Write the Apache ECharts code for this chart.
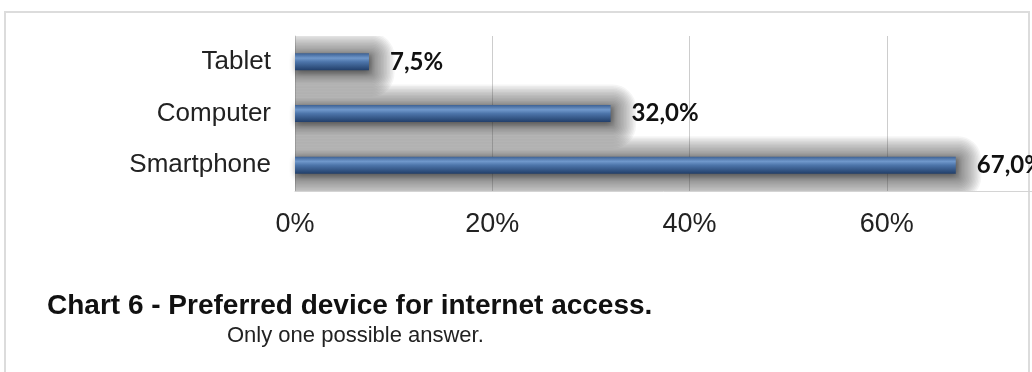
<!DOCTYPE html>
<html>
<head>
<meta charset="utf-8">
<script src="https://cdn.jsdelivr.net/npm/echarts@6/dist/echarts.min.js"></script>
<style>
  html, body { margin: 0; padding: 0; background: #fff; }
  #chart { width: 1032px; height: 372px; }
</style>
</head>
<body>
<div id="chart"></div>
<script>
// Device categories, top to bottom
const devices = ['Tablet', 'Computer', 'Smartphone'];
// Share of respondents (%)
const shares = [7.5, 32.0, 67.0];
// Value axis range and step (%)
const axisMin = 0;
const axisMax = 80;
const axisStep = 20;

const titleText = 'Chart 6 - Preferred device for internet access.';
const subText = 'Only one possible answer.';

const chart = echarts.init(document.getElementById('chart'), null, { renderer: 'canvas' });

const barFill = new echarts.graphic.LinearGradient(0, 0, 0, 1, [
  { offset: 0, color: '#3d6194' },
  { offset: 0.28, color: '#7098cb' },
  { offset: 0.5, color: '#4d75aa' },
  { offset: 1, color: '#223f6a' }
]);

// Soft grey glow behind each bar, built from stacked translucent
// rounded rectangles that grow outward from the bar outline.
const GLOW_LAYERS = 16;
function renderGlow(params, api) {
  const v = api.value(0);
  const c = api.value(1);
  const p0 = api.coord([0, c]);
  const p1 = api.coord([v, c]);
  const half = 8.5;
  const children = [];
  for (let k = 0; k < GLOW_LAYERS; k++) {
    const e = 1 + k * 1.5;
    children.push({
      type: 'rect',
      shape: {
        x: p0[0] - e,
        y: p0[1] - half - e + 3,
        width: p1[0] - p0[0] + 2 * e + 2,
        height: 2 * half + 2 * e,
        r: e
      },
      style: { fill: 'rgba(70,70,70,0.056)' }
    });
  }
  return { type: 'group', children };
}

chart.setOption({
  animation: false,
  backgroundColor: '#ffffff',
  graphic: [{
    type: 'rect',
    silent: true,
    z: -10,
    shape: { x: 5, y: 12, width: 1024, height: 420 },
    style: { fill: 'none', stroke: '#dcdcdc', lineWidth: 2 }
  }],
  title: [{
    text: titleText,
    left: 42,
    top: 287,
    textStyle: { fontFamily: 'Liberation Sans', fontWeight: 'bold', fontSize: 28, color: '#111' }
  }, {
    text: subText,
    left: 222,
    top: 320,
    textStyle: { fontFamily: 'Liberation Sans', fontWeight: 'normal', fontSize: 22, color: '#222' }
  }],
  // plot runs past the right edge of the canvas, so the 80% end is cut off
  grid: { left: 295, top: 36, width: 789, bottom: 181, containLabel: false, outerBoundsMode: 'none' },
  xAxis: {
    type: 'value',
    min: axisMin,
    max: axisMax,
    interval: axisStep,
    axisLine: { show: true, lineStyle: { color: '#d4d4d4', width: 1 } },
    axisTick: { show: false },
    splitLine: { show: true, lineStyle: { color: '#cdcdcd', width: 1 } },
    axisLabel: {
      margin: 20,
      fontFamily: 'Liberation Sans',
      fontSize: 27,
      color: '#222',
      formatter: v => v + '%'
    }
  },
  yAxis: {
    type: 'category',
    inverse: true,
    data: devices,
    axisLine: { show: true, lineStyle: { color: '#d4d4d4', width: 1 } },
    axisTick: { show: false },
    axisLabel: {
      margin: 24,
      fontFamily: 'Liberation Sans',
      fontSize: 26,
      color: '#222'
    }
  },
  series: [{
    type: 'custom',
    z: 1,
    clip: true,
    renderItem: renderGlow,
    encode: { x: 0, y: 1 },
    data: shares.map((v, i) => [v, i]),
    silent: true
  }, {
    type: 'bar',
    z: 3,
    data: shares,
    barWidth: 17,
    itemStyle: {
      color: barFill,
      shadowBlur: 6,
      shadowColor: 'rgba(0,0,0,0.45)',
      shadowOffsetX: 1,
      shadowOffsetY: 2
    },
    label: {
      show: true,
      position: 'right',
      distance: 21,
      fontFamily: 'Lato',
      fontWeight: 'bold',
      fontSize: 24,
      color: '#111',
      formatter: p => p.value.toFixed(1).replace('.', ',') + '%'
    }
  }]
});
</script>
</body>
</html>
